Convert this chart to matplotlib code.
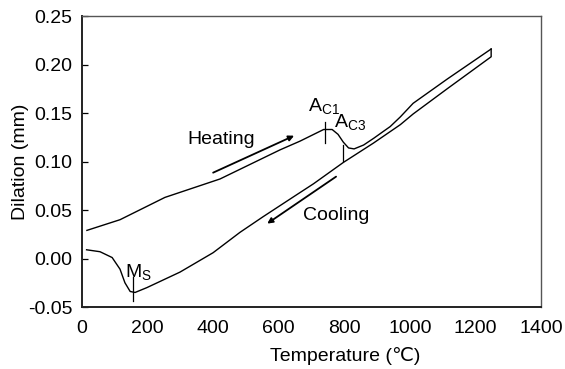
import matplotlib
matplotlib.use("Agg")
import matplotlib.pyplot as plt

plt.rcParams['font.family'] = ['Liberation Sans', 'DejaVu Sans']
plt.rcParams['axes.unicode_minus'] = False

# heating branch (temperature in C, dilation in mm)
heat_T = [15, 116, 253, 421, 604, 665, 737, 763, 781, 797, 813, 830, 859, 890, 919, 940,
          971, 1010, 1114, 1248]
heat_D = [0.029, 0.040, 0.063, 0.082, 0.112, 0.121, 0.133, 0.133, 0.128, 0.120, 0.114, 0.113,
          0.117, 0.124, 0.131, 0.136, 0.146, 0.160, 0.185, 0.216]

# cooling branch, from the top end back down to room temperature
cool_T = [1248, 1248, 1114, 1010, 971, 889, 797, 706, 656, 552, 482, 400, 299, 198, 162, 147,
          131, 116, 92, 55, 14]
cool_D = [0.216, 0.208, 0.175, 0.149, 0.138, 0.119, 0.099, 0.077, 0.066, 0.043, 0.027, 0.006,
          -0.014, -0.030, -0.035, -0.034, -0.025, -0.011, 0.001, 0.007, 0.009]

# transformation points: (temperature, low end, high end) of the marker ticks
ac1 = (742, 0.119, 0.141)
ac3 = (797, 0.101, 0.117)
ms = (156, -0.044, -0.019)

xticks = [0, 200, 400, 600, 800, 1000, 1200, 1400]
yticks = [-0.05, 0.00, 0.05, 0.10, 0.15, 0.20, 0.25]

fig = plt.figure(figsize=(5.65, 3.69), dpi=100)
ax = fig.add_axes([0.1451, 0.168, 0.8124, 0.7886])

ax.plot(heat_T, heat_D, color='black', lw=1.0)
ax.plot(cool_T, cool_D, color='black', lw=1.0)

for t, lo, hi in (ac1, ac3, ms):
    ax.plot([t, t], [lo, hi], color='black', lw=0.9)

fs = 14
ax.text(688, 0.151, r'A$_{\mathregular{C1}}$', fontsize=fs)
ax.text(769, 0.135, r'A$_{\mathregular{C3}}$', fontsize=fs)
ax.text(131, -0.0195, r'M$_{\mathregular{S}}$', fontsize=fs)

ax.text(424, 0.1225, 'Heating', fontsize=fs, ha='center', va='center')
ax.text(775, 0.044, 'Cooling', fontsize=fs, ha='center', va='center')

arr = dict(arrowstyle='-|>', color='black', lw=1.3, mutation_scale=8, shrinkA=0, shrinkB=0)
ax.annotate('', xy=(647, 0.1266), xytext=(400, 0.0885), arrowprops=arr)
ax.annotate('', xy=(565, 0.036), xytext=(775, 0.0844), arrowprops=arr)

ax.set_xlim(0, 1400)
ax.set_ylim(-0.05, 0.25)
ax.set_xticks(xticks)
ax.set_xticklabels([str(v) for v in xticks])
ax.set_yticks(yticks)
ax.set_yticklabels(['%.2f' % v for v in yticks])
ax.tick_params(axis='x', length=0, pad=9.5, labelsize=fs)
ax.tick_params(axis='y', direction='in', length=4.5, width=0.9, pad=7, labelsize=fs)

for s in ('left', 'bottom'):
    ax.spines[s].set_linewidth(1.4)
    ax.spines[s].set_color('#222222')
for s in ('top', 'right'):
    ax.spines[s].set_linewidth(1.0)
    ax.spines[s].set_color('#555555')

ax.set_xlabel('Temperature (\u2103)', fontsize=fs)
ax.xaxis.set_label_coords(0.573, -0.1375)
ax.set_ylabel('Dilation (mm)', fontsize=fs)
ax.yaxis.set_label_coords(-0.1155, 0.5)

fig.savefig('out.png', dpi=100)
